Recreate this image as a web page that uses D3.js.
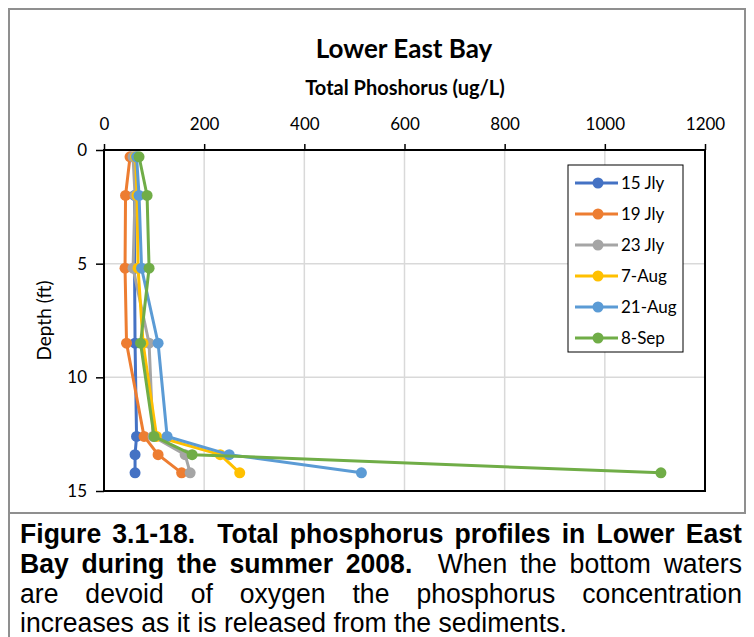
<!DOCTYPE html>
<html>
<head>
<meta charset="utf-8">
<script src="https://cdn.jsdelivr.net/npm/d3@7"></script>
<style>
  body { margin: 0; background: #fff; }
  svg { display: block; }
  .tick text { font-family: Lato, "Open Sans", sans-serif; font-size: 17px; fill: #000; }
</style>
</head>
<body>
<svg id="svg1" width="754" height="637"></svg>
<script>
// series and values (depth in ft, total P in ug/L)
var seriesNames = ["15 Jly", "19 Jly", "23 Jly", "7-Aug", "21-Aug", "8-Sep"];
var seriesColors = ["#4472C4", "#ED7D31", "#A5A5A5", "#FFC000", "#5B9BD5", "#70AD47"];
var depths = [0.3, 2.0, 5.2, 8.5, 12.6, 13.4, 14.2];
var jly15 = [null, 61, 61, 62, 65, 62, 62];
var jly19 = [52, 43, 42, 45, 80, 108, 155];
var jly23 = [58, 62, 58, 90, 98, 162, 172];
var aug7 = [63, 66, 68, 78, 105, 232, 271];
var aug21 = [65, 70, 75, 108, 126, 250, 514];
var sep8 = [70, 86, 90, 73, 100, 176, 1112];
var xTicks = [0, 200, 400, 600, 800, 1000, 1200];
var yTicks = [0, 5, 10, 15];

var allValues = [jly15, jly19, jly23, aug7, aug21, sep8];

var svg = d3.select("#svg1");

var plotLeft = 104, plotRight = 705, plotTop = 150, plotBottom = 491;

var x = d3.scaleLinear().domain([0, 1200]).range([plotLeft, plotRight]);
var y = d3.scaleLinear().domain([0, 15]).range([plotTop, plotBottom]);

// outer chart border and caption border
svg.append("rect")
    .attr("x", 9).attr("y", 9).attr("width", 736).attr("height", 504)
    .attr("fill", "none").attr("stroke", "#8f8f8f").attr("stroke-width", 2);
svg.append("line")
    .attr("x1", 9).attr("x2", 9).attr("y1", 513).attr("y2", 637)
    .attr("stroke", "#8f8f8f").attr("stroke-width", 2);

// titles
svg.append("text")
    .attr("x", 404).attr("y", 58)
    .attr("text-anchor", "middle")
    .style("font-family", "Lato, sans-serif").style("font-weight", "bold").style("font-size", "26px")
    .text("Lower East Bay");

svg.append("text")
    .attr("x", 405).attr("y", 95)
    .attr("text-anchor", "middle")
    .style("font-family", "Lato, sans-serif").style("font-weight", "bold").style("font-size", "20px")
    .text("Total Phoshorus (ug/L)");

svg.append("text")
    .attr("transform", "translate(51," + ((plotTop + plotBottom) / 2) + ") rotate(-90)")
    .attr("text-anchor", "middle")
    .style("font-family", "Lato, sans-serif").style("font-size", "19px")
    .text("Depth (ft)");

// gridlines
svg.append("g").selectAll("line")
    .data(xTicks.slice(1, -1))
    .enter().append("line")
    .attr("x1", function(d) { return x(d); }).attr("x2", function(d) { return x(d); })
    .attr("y1", plotTop).attr("y2", plotBottom)
    .attr("stroke", "#d9d9d9").attr("stroke-width", 1.5);

svg.append("g").selectAll("line")
    .data(yTicks.slice(1, -1))
    .enter().append("line")
    .attr("x1", plotLeft).attr("x2", plotRight)
    .attr("y1", function(d) { return y(d); }).attr("y2", function(d) { return y(d); })
    .attr("stroke", "#d9d9d9").attr("stroke-width", 1.5);

// axes
svg.append("g")
    .attr("class", "axis")
    .attr("transform", "translate(0," + plotTop + ")")
    .call(d3.axisTop(x).tickValues(xTicks).tickFormat(d3.format("d")).tickSize(6).tickPadding(14));

svg.append("g")
    .attr("class", "axis")
    .attr("transform", "translate(" + plotLeft + ",0)")
    .call(d3.axisLeft(y).tickValues(yTicks).tickFormat(d3.format("d")).tickSize(8).tickPadding(9));

d3.selectAll(".axis .domain").remove();
d3.selectAll(".axis .tick line").attr("stroke", "#000").attr("stroke-width", 1.5);

// plot frame
svg.append("rect")
    .attr("x", plotLeft).attr("y", plotTop)
    .attr("width", plotRight - plotLeft).attr("height", plotBottom - plotTop)
    .attr("fill", "none").attr("stroke", "#000").attr("stroke-width", 2);

// series
var line = d3.line()
    .defined(function(d) { return d.v != null; })
    .x(function(d) { return x(d.v); })
    .y(function(d) { return y(d.depth); });

seriesNames.forEach(function(name, i) {
  var pts = depths.map(function(dep, j) { return { depth: dep, v: allValues[i][j] }; });
  var g = svg.append("g").attr("class", "series");
  g.append("path")
      .datum(pts)
      .attr("fill", "none")
      .attr("stroke", seriesColors[i])
      .attr("stroke-width", 3)
      .attr("stroke-linejoin", "round")
      .attr("d", line);
  g.selectAll("circle")
      .data(pts.filter(function(d) { return d.v != null; }))
      .enter().append("circle")
      .attr("cx", function(d) { return x(d.v); })
      .attr("cy", function(d) { return y(d.depth); })
      .attr("r", 5.5)
      .attr("fill", seriesColors[i]);
});

// legend
var legend = svg.append("g").attr("transform", "translate(568,165)");
legend.append("rect")
    .attr("width", 115).attr("height", 187)
    .attr("fill", "#fff").attr("stroke", "#000").attr("stroke-width", 1);

var items = legend.selectAll(".item")
    .data(seriesNames)
    .enter().append("g")
    .attr("class", "item")
    .attr("transform", function(d, i) { return "translate(0," + (18 + i * 31) + ")"; });

items.append("line")
    .attr("x1", 7).attr("x2", 50)
    .attr("stroke", function(d, i) { return seriesColors[i]; })
    .attr("stroke-width", 3);
items.append("circle")
    .attr("cx", 30).attr("r", 5.5)
    .attr("fill", function(d, i) { return seriesColors[i]; });
items.append("text")
    .attr("x", 53).attr("dy", "0.35em")
    .style("font-family", "Lato, sans-serif").style("font-size", "17px")
    .text(function(d) { return d; });

// caption, justified word by word
var captionLines = [
  [["Figure", 1, 0], ["3.1-18.", 1, 1], ["Total", 1, 2], ["phosphorus", 1, 1], ["profiles", 1, 1], ["in", 1, 1], ["Lower", 1, 1], ["East", 1, 1]],
  [["Bay", 1, 0], ["during", 1, 1], ["the", 1, 1], ["summer", 1, 1], ["2008.", 1, 1], ["When", 0, 2], ["the", 0, 1], ["bottom", 0, 1], ["waters", 0, 1]],
  [["are", 0, 0], ["devoid", 0, 1], ["of", 0, 1], ["oxygen", 0, 1], ["the", 0, 1], ["phosphorus", 0, 1], ["concentration", 0, 1]],
  [["increases", 0, 0], ["as", 0, 1], ["it", 0, 1], ["is", 0, 1], ["released", 0, 1], ["from", 0, 1], ["the", 0, 1], ["sediments.", 0, 1]]
];
var capBase = [543, 573, 603, 632];
var capFont = 28;
var capLeft = 20, capWidth = 722, lastWidth = 547;

var cap = svg.append("g");
var lineGroups = captionLines.map(function(words, li) {
  var g = cap.append("g");
  var nodes = words.map(function(w) {
    return g.append("text")
        .attr("y", 0)
        .style("font-family", "'Liberation Sans', Arial, sans-serif")
        .style("font-size", capFont + "px")
        .style("font-weight", w[1] ? "bold" : "normal")
        .text(w[0]);
  });
  var widths = nodes.map(function(n) { return n.node().getComputedTextLength(); });
  return { g: g, words: words, nodes: nodes, widths: widths };
});

var space = capFont * 0.278;
var last = lineGroups[lineGroups.length - 1];
var lastNatural = d3.sum(last.widths) + space * (last.words.length - 1);
var sx = lastWidth / lastNatural;

lineGroups.forEach(function(lg, li) {
  var isLast = li == lineGroups.length - 1;
  var weights = d3.sum(lg.words, function(w) { return w[2]; });
  var gap = isLast ? space : (capWidth / sx - d3.sum(lg.widths)) / weights;
  var pos = 0;
  lg.nodes.forEach(function(n, k) {
    pos += lg.words[k][2] * gap;
    n.attr("x", pos);
    pos += lg.widths[k];
  });
  lg.g.attr("transform", "translate(" + capLeft + "," + capBase[li] + ") scale(" + sx + ",1)");
});
</script>
</body>
</html>
